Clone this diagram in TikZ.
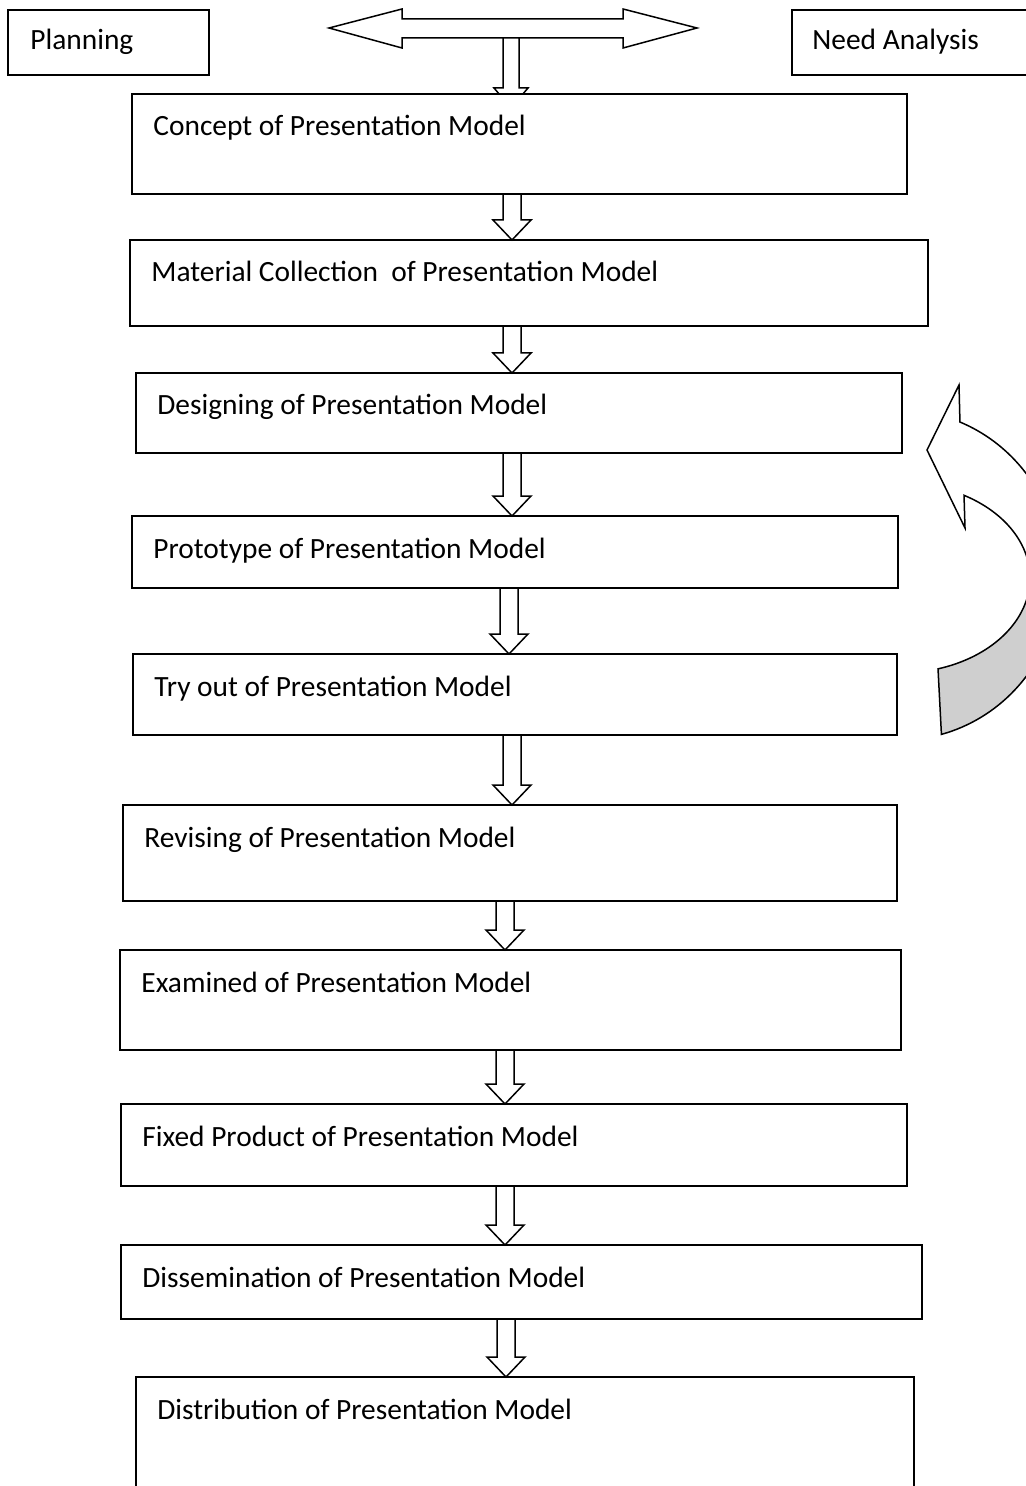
\documentclass[tikz,border=0pt]{standalone}
\usepackage{fontspec}
\setmainfont{Carlito}
\usetikzlibrary{calc}

\tikzset{
    stepbox/.style={draw, fill=white, line width=0.75pt, inner sep=0pt, outer sep=0pt},
    boxtext/.style={anchor=base west, inner sep=0pt, font=\fontsize{14.7}{17}\selectfont},
    blockarr/.style={draw, line width=0.75pt, line join=miter},
}

\begin{document}
\begin{tikzpicture}[x=0.5pt, y=-0.5pt]
    \useasboundingbox (0,0) rectangle (1026,1486);
    \clip (0,0) rectangle (1026,1486);

    % the two boxes on top
    \node[stepbox, minimum width=100.5pt, minimum height=32.5pt] (planning) at (108.5,42.5) {};
    \node[boxtext] (planning-txt) at (30,50) {Planning};
    \node[stepbox, minimum width=125pt, minimum height=32.5pt] (need) at (917,42.5) {};
    \node[boxtext] (need-txt) at (812,50) {Need Analysis};

    % the double arrow between them
    \draw[blockarr, fill=white] (329,28) -- (402,9) -- (402,19) -- (623,19) -- (623,9) -- (697,28)
        -- (623,48) -- (623,38) -- (402,38) -- (402,48) -- cycle;
    % the arrow down from it into the first box
    \coordinate (split) at (511,38);
    \draw[blockarr, fill=white] ($(split)+(-8,0)$) -- ++(0,50) -- ++(-9,0) -- ($(split)+(0,70)$)
        -- ++(17,-20) -- ++(-9,0) -- ($(split)+(8,0)$) -- cycle;

    % the boxes of the steps
    \foreach \name/\l/\t/\r/\b/\txt in {
        concept/132/94/907/194/{Concept of Presentation Model},
        material/130/240/928/326/{Material Collection~~of Presentation Model},
        designing/136/373/902/453/{Designing of Presentation Model},
        prototype/132/516/898/588/{Prototype of Presentation Model},
        tryout/133/654/897/735/{Try out of Presentation Model},
        revising/123/805/897/901/{Revising of Presentation Model},
        examined/120/950/901/1050/{Examined of Presentation Model},
        fixed/121/1104/907/1186/{Fixed Product of Presentation Model},
        dissemination/121/1245/922/1319/{Dissemination of Presentation Model},
        distribution/136/1377/914/1500/{Distribution of Presentation Model}}
    {
        \node[stepbox, minimum width={(\r-\l)*0.5pt}, minimum height={(\b-\t)*0.5pt}]
            (\name) at ({(\l+\r)/2},{(\t+\b)/2}) {};
        \node[boxtext] (\name-txt) at ([xshift=10.5pt, yshift=-21pt]\name.north west) {\txt};
    }

    % the arrows between the steps
    \foreach \a/\b/\x in {concept/material/512, material/designing/512, designing/prototype/512,
        prototype/tryout/509, tryout/revising/512, revising/examined/505, examined/fixed/505,
        fixed/dissemination/505, dissemination/distribution/506}
    \draw[blockarr] (\x-9,0 |- \a.south) -- ($(\x-9,0 |- \b.north)+(0,-20)$) -- ++(-10,0)
        -- (\x,0 |- \b.north) -- ($(\x+19,0 |- \b.north)+(0,-20)$) -- ++(-10,0)
        -- (\x+9,0 |- \a.south);

    % the curved arrow on the right, white part with the head
    \draw[blockarr, fill=white] (959,385)
        -- plot[domain=-68:0, samples=40, variable=\t] ({900+160*cos(\t)},{575+165*sin(\t)})
        -- plot[domain=0:-60.5, samples=40, variable=\t] ({900+130*cos(\t)},{578+95*sin(\t)})
        -- (965,528) -- (927,450) -- cycle;
    % the grey back of the curved arrow
    \draw[blockarr, fill=black!19]
        plot[domain=0:73, samples=40, variable=\t] ({900+130*cos(\t)},{578+95*sin(\t)})
        -- plot[domain=75:0, samples=40, variable=\t] ({900+160*cos(\t)},{575+165*sin(\t)})
        -- cycle;
\end{tikzpicture}
\end{document}
